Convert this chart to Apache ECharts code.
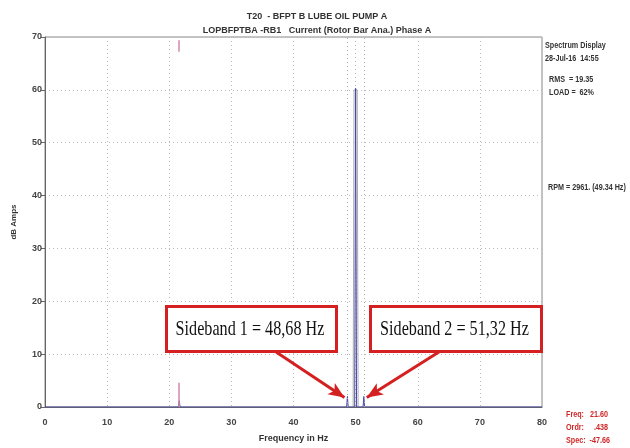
<!DOCTYPE html>
<html><head><meta charset="utf-8">
<script src="https://cdn.jsdelivr.net/npm/echarts@6/dist/echarts.min.js"></script>
<style>html,body{margin:0;padding:0;background:#fff}#c{width:630px;height:448px}</style>
</head><body><div id="c"></div>
<script>
// Spectrum (frequency Hz, amplitude dB)
const freqs = [0, 21.45, 21.6, 21.75, 48.55, 48.68, 48.8, 49.85, 50.0, 50.15, 51.2, 51.32, 51.45, 80];
const amps  = [0, 0, 1.2, 0, 0, 2.0, 0, 0, 60.3, 0, 0, 2.0, 0, 0];
const peakEnvF = [49.6, 49.75, 50.25, 50.4];
const peakEnvA = [0, 60, 60, 0];
const sidebandFreqs = [48.68, 51.32];
const sidebandLabels = ['Sideband 1 = 48,68 Hz', 'Sideband 2 = 51,32 Hz'];
const cursorFreq = 21.6;
const xTicks = [0, 10, 20, 30, 40, 50, 60, 70, 80];
const yTicks = [0, 10, 20, 30, 40, 50, 60, 70];

const chart = echarts.init(document.getElementById('c'), null, {renderer: 'canvas'});
const spec = freqs.map((f, i) => [f, amps[i]]);
const env = peakEnvF.map((f, i) => [f, peakEnvA[i]]);
const FF = 'Liberation Sans Narrow, Arial Narrow, Liberation Sans';
const lblFont = {fontFamily: FF, fontSize: 9, fontWeight: 'bold', color: '#444'};
const sideFont = 'bold 9px "Liberation Sans"';
const boxFont = '21px "Liberation Serif", "Times New Roman"';

function sideText(x, y, text, fill) {
  return {type: 'text', x: x, y: y, scaleX: 0.8, style: {x: 0, y: 0, text: text, font: sideFont, fill: fill || '#333', lineHeight: 13}};
}

chart.setOption({
  animation: false,
  grid: {left: 45, right: 88, top: 37, bottom: 40, show: true, borderColor: '#888', borderWidth: 1},
  xAxis: {
    type: 'value', min: 0, max: 80, interval: 10,
    name: 'Frequency in Hz', nameLocation: 'middle', nameGap: 27,
    nameTextStyle: Object.assign({}, lblFont, {fontSize: 9, color: '#333'}),
    axisLine: {show: true, lineStyle: {color: '#666'}},
    axisTick: {show: false},
    axisLabel: Object.assign({margin: 11, formatter: v => xTicks.includes(v) ? String(v) : ''}, lblFont),
    splitLine: {show: true, lineStyle: {color: '#bbb', type: [1, 3]}}
  },
  yAxis: {
    type: 'value', min: 0, max: 70, interval: 10,
    name: 'dB Amps', nameLocation: 'middle', nameGap: 27, nameRotate: 90,
    nameTextStyle: Object.assign({}, lblFont, {fontSize: 8, color: '#333'}),
    axisLine: {show: true, lineStyle: {color: '#666'}},
    axisTick: {show: true, length: 4, lineStyle: {color: '#666'}},
    axisLabel: Object.assign({margin: 3, formatter: v => yTicks.includes(v) ? String(v) : ''}, lblFont),
    splitLine: {show: true, lineStyle: {color: '#bbb', type: [1, 3]}}
  },
  title: [
    {text: 'T20  - BFPT B LUBE OIL PUMP A', left: 312, top: 7, textAlign: 'center',
     textStyle: {fontFamily: FF, fontSize: 9, fontWeight: 'bold', color: '#333'}},
    {text: 'LOPBFPTBA -RB1   Current (Rotor Bar Ana.) Phase A', left: 312, top: 21, textAlign: 'center',
     textStyle: {fontFamily: FF, fontSize: 9, fontWeight: 'bold', color: '#333'}}
  ],
  series: [
    {type: 'line', data: env, symbol: 'none', z: 2, lineStyle: {color: '#aaa', width: 1}},
    {type: 'line', data: spec, symbol: 'none', z: 3, lineStyle: {color: '#4848a8', width: 1},
     markLine: {
       silent: true, symbol: 'none', label: {show: false},
       data: [
         ...sidebandFreqs.map(f => ({xAxis: f, lineStyle: {color: '#aaa', type: [1, 3], width: 1}})),
         [{coord: [cursorFreq, 69.4]}, {coord: [cursorFreq, 67.2], lineStyle: {color: '#d08aa8', width: 1.5, type: 'solid'}}],
         [{coord: [cursorFreq, 4.6]}, {coord: [cursorFreq, 0], lineStyle: {color: '#d08aa8', width: 1.5, type: 'solid'}}]
       ]
     }},
    {type: 'line', data: [], symbol: 'none',
     markLine: {
       silent: true, symbol: ['none', 'arrow'], symbolSize: [10, 16], label: {show: false},
       lineStyle: {color: '#d42020', width: 3, type: 'solid'},
       data: [
         [{coord: [37.2, 10.4]}, {coord: [48.2, 1.8]}],
         [{coord: [63.4, 10.4]}, {coord: [51.8, 1.8]}]
       ]
     }}
  ],
  graphic: [
    sideText(545, 39, 'Spectrum Display\n28-Jul-16  14:55'),
    sideText(549, 73, 'RMS  = 19.35\nLOAD =  62%'),
    sideText(548, 181, 'RPM = 2961. (49.34 Hz)'),
    sideText(566, 408, 'Freq:   21.60\nOrdr:     .438\nSpec:  -47.66', '#d02828'),
    {type: 'rect', left: 165, top: 305, z: 20, shape: {width: 170, height: 45}, style: {fill: '#fff', stroke: '#d42020', lineWidth: 3}},
    {type: 'text', z: 21, x: 250, y: 329, scaleX: 0.77, style: {x: 0, y: 0, text: sidebandLabels[0], font: boxFont, fill: '#111', textAlign: 'center', textVerticalAlign: 'middle'}},
    {type: 'rect', left: 369, top: 305, z: 20, shape: {width: 171, height: 45}, style: {fill: '#fff', stroke: '#d42020', lineWidth: 3}},
    {type: 'text', z: 21, x: 454.5, y: 329, scaleX: 0.77, style: {x: 0, y: 0, text: sidebandLabels[1], font: boxFont, fill: '#111', textAlign: 'center', textVerticalAlign: 'middle'}}
  ]
});
</script></body></html>
